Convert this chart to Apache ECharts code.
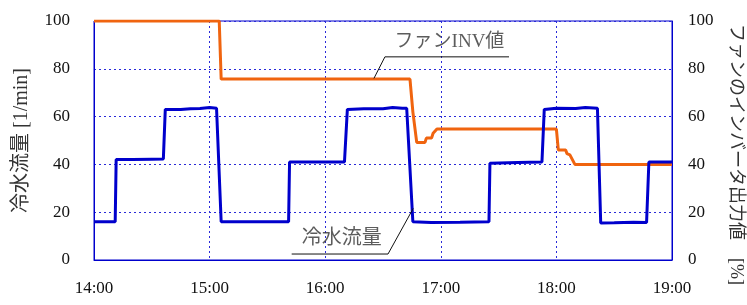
<!DOCTYPE html>
<html>
<head>
<meta charset="utf-8">
<script src="https://cdn.jsdelivr.net/npm/echarts@6/dist/echarts.min.js"></script>
<style>
  html, body { margin: 0; padding: 0; background: #fff; }
  #chart { width: 747px; height: 305px; }
</style>
</head>
<body>
<div id="chart"></div>
<script>
// 時刻は 14:00 からの経過分
const START_HOUR = 14
const xTicks = [0, 60, 120, 180, 240, 300]
const yTicks = [0, 20, 40, 60, 80, 100]

// 冷水流量 [1/min]
const flowData = [
  [0, 16], [11, 16], [11.5, 42], [20, 42], [30, 42.2], [36, 42.3], [37, 63],
  [45, 63], [50, 63.3], [55, 63.4], [60, 63.8], [63.6, 63.5], [66, 16],
  [80, 16], [101, 16], [101.5, 41], [115, 41], [130, 41], [131.5, 63],
  [140, 63.3], [150, 63.3], [155, 63.8], [160, 63.5], [162.3, 63.5], [165.5, 16],
  [175, 15.7], [190, 15.8], [205, 16], [205.5, 40.5], [220, 40.8], [232.5, 41],
  [233.7, 63], [240, 63.5], [250, 63.4], [255, 63.8], [261.3, 63.5], [263, 15.5],
  [270, 15.6], [280, 15.8], [286.8, 15.7], [288, 41], [300, 41]
]

// ファンINV値 [%]
const invData = [
  [0, 100], [65, 100], [66, 75.7], [164, 75.7], [165.5, 62], [167.5, 49.2],
  [171.8, 49.2], [172.5, 51], [175.2, 51], [176, 53], [177, 53], [178, 54.8],
  [240, 54.8], [241, 46], [244.8, 46], [245.5, 44.5], [247, 44], [249.6, 40],
  [300, 40]
]

// 注記の引き出し線と文字位置
const invLeader = [[145.3, 76], [151, 85], [215.4, 85]]
const invLabel = [[184.5, 91]]
const flowLeader = [[102.6, 2.5], [152.6, 2.5], [165.7, 21.6]]
const flowLabel = [[128.6, 9]]

const BLUE = '#0000cc'
const GRID_BLUE = '#2a2ad8'
const ORANGE = '#f0640f'
const NUM_FONT = "'Liberation Serif', 'Times New Roman', serif"
const JP_FONT = "'Liberation Serif', 'Noto Sans CJK JP', serif"

const chart = echarts.init(document.getElementById('chart'))

function fmtTime(v) {
  return (START_HOUR + Math.round(v / 60)) + ':00'
}

const yAxisBase = {
  type: 'value',
  min: yTicks[0],
  max: yTicks[yTicks.length - 1],
  interval: yTicks[1] - yTicks[0],
  nameLocation: 'middle',
  axisLine: { show: true, lineStyle: { color: BLUE, width: 1 } },
  axisTick: { show: false },
}

chart.setOption({
  animation: false,
  grid: {
    left: 94, right: 75, top: 21, bottom: 45,
    outerBoundsMode: 'none',
    containLabel: false,
    show: true, borderColor: BLUE, borderWidth: 1,
  },
  xAxis: {
    type: 'value',
    min: xTicks[0],
    max: xTicks[xTicks.length - 1],
    interval: xTicks[1] - xTicks[0],
    axisLine: { show: true, lineStyle: { color: BLUE, width: 1 } },
    axisTick: { show: false },
    axisLabel: {
      formatter: fmtTime, color: '#111', fontFamily: NUM_FONT, fontSize: 17, margin: 20,
    },
    splitLine: { show: true, lineStyle: { color: GRID_BLUE, type: [2, 3], width: 1 } },
  },
  yAxis: [
    Object.assign({}, yAxisBase, {
      position: 'left',
      name: '冷水流量 [1/min]',
      nameRotate: 90,
      nameGap: 62,
      nameTextStyle: { fontFamily: JP_FONT, fontSize: 20, color: '#333' },
      axisLabel: { color: '#111', fontFamily: NUM_FONT, fontSize: 17, margin: 24 },
      splitLine: { show: true, lineStyle: { color: GRID_BLUE, type: [2, 3], width: 1 } },
    }),
    Object.assign({}, yAxisBase, {
      position: 'right',
      name: 'ファンのインバータ出力値　[%]',
      nameRotate: -90,
      nameGap: 55,
      nameTextStyle: { fontFamily: JP_FONT, fontSize: 18, color: '#333', padding: [0, 0, 0, 28] },
      axisLabel: { color: '#111', fontFamily: NUM_FONT, fontSize: 17, margin: 16 },
      splitLine: { show: false },
    }),
  ],
  series: [
    {
      name: 'ファンINV値',
      type: 'line',
      data: invData,
      symbol: 'none',
      lineStyle: { color: ORANGE, width: 3 },
      z: 3,
    },
    {
      name: '冷水流量',
      type: 'line',
      data: flowData,
      symbol: 'none',
      lineStyle: { color: BLUE, width: 3 },
      z: 4,
    },
    {
      type: 'line', data: invLeader, symbol: 'none',
      lineStyle: { color: '#111', width: 1 }, z: 5,
    },
    {
      type: 'line', data: flowLeader, symbol: 'none',
      lineStyle: { color: '#111', width: 1 }, z: 5,
    },
    {
      type: 'scatter', data: invLabel, symbolSize: 0, z: 6,
      label: {
        show: true, position: 'inside', formatter: 'ファンINV値',
        fontFamily: JP_FONT, fontSize: 19, color: '#333',
      },
    },
    {
      type: 'scatter', data: flowLabel, symbolSize: 0, z: 6,
      label: {
        show: true, position: 'inside', formatter: '冷水流量',
        fontFamily: JP_FONT, fontSize: 20, color: '#333',
      },
    },
  ],
})
</script>
</body>
</html>
